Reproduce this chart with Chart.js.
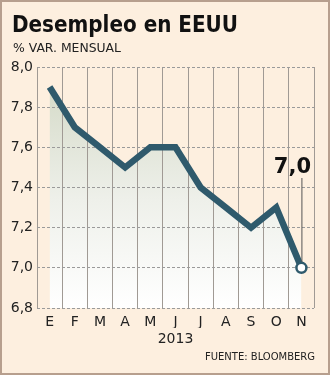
<!DOCTYPE html>
<html>
<head>
<meta charset="utf-8">
<script src="https://cdn.jsdelivr.net/npm/chart.js@4.4.0/dist/chart.umd.min.js"></script>
<style>
html,body{margin:0;padding:0;background:#fdefdf}
#c{display:block;background:#fdefdf}
</style>
</head>
<body>
<canvas id="c" width="330" height="375"></canvas>
<script>
// datos
const MESES=['E','F','M','A','M','J','J','A','S','O','N'];
const DESEMPLEO=[7.9,7.7,7.6,7.5,7.6,7.6,7.4,7.3,7.2,7.3,7.0];
const Y_MIN=6.8, Y_MAX=8.0, Y_STEP=0.2;
const TITULO='Desempleo en EEUU';
const SUBTITULO='% VAR. MENSUAL';
const ANIO='2013';
const FUENTE='FUENTE: BLOOMBERG';

const TEAL='#2f5a6c';
const FONT='"DejaVu Sans", Tahoma, sans-serif';

function coma(v){return Number(v).toFixed(1).replace('.',',')}

// texto ajustado a un ancho
function fitText(c,txt,x,y,w){
 const m=c.measureText(txt).width;
 c.save();c.translate(x,y);c.scale(w/m,1);c.fillText(txt,0,0);c.restore();
}

const decorPlugin={
 id:'decor',
 afterDraw(chart){
  const c=chart.ctx, xs=chart.scales.x, ys=chart.scales.y;
  c.save();
  c.fillStyle='#111';c.textBaseline='alphabetic';c.textAlign='left';
  c.font='bold 23px '+FONT;
  fitText(c,TITULO,12,32,226);
  c.font='13px '+FONT;c.fillStyle='#222';
  fitText(c,SUBTITULO,13,52,108);
  c.font='14px '+FONT;c.textAlign='center';
  c.fillText(ANIO,(xs.left+xs.right)/2,343);
  c.font='11px '+FONT;c.textAlign='left';
  fitText(c,FUENTE,205,360,110);
  // etiqueta del ultimo valor
  const last=DESEMPLEO.length-1;
  const px=xs.getPixelForValue(last), py=ys.getPixelForValue(DESEMPLEO[last]);
  c.strokeStyle='#555';c.lineWidth=1;
  c.beginPath();c.moveTo(px+0.5,178);c.lineTo(px+0.5,py-6);c.stroke();
  c.font='bold 21px '+FONT;c.textAlign='center';c.fillStyle='#111';
  c.fillText(coma(DESEMPLEO[last]),px-9,173);
  // marco
  c.strokeStyle='#b79f8e';c.lineWidth=2;
  c.strokeRect(1,1,328,373);
  c.restore();
 }
};

new Chart(document.getElementById('c'),{
 type:'line',
 data:{
  labels:MESES,
  datasets:[{
   data:DESEMPLEO,
   borderColor:TEAL,
   borderWidth:6.5,
   fill:'start',
   tension:0,
   backgroundColor:(ctx)=>{
    const a=ctx.chart.chartArea;
    if(!a)return '#e0e3d6';
    const g=ctx.chart.ctx.createLinearGradient(0,a.top,0,a.bottom);
    g.addColorStop(0,'#d1d7c3');
    g.addColorStop(0.55,'#eef0ea');
    g.addColorStop(1,'#ffffff');
    return g;
   },
   pointRadius:(ctx)=>ctx.dataIndex===DESEMPLEO.length-1?5:0,
   pointBackgroundColor:'#ffffff',
   pointBorderColor:TEAL,
   pointBorderWidth:2.5,
   clip:false
  }]
 },
 options:{
  responsive:false,
  animation:false,
  layout:{padding:{left:0,right:16,top:67,bottom:47}},
  plugins:{
   legend:{display:false},
   tooltip:{enabled:false},
   filler:{drawTime:'beforeDraw'}
  },
  scales:{
   x:{
    offset:true,
    grid:{offset:true,color:'#a09a94',lineWidth:1,drawTicks:false},
    border:{display:false},
    ticks:{color:'#222',font:{family:FONT,size:14},padding:6,maxRotation:0,autoSkip:false},
    afterFit(s){s.height=20}
   },
   y:{
    min:Y_MIN,max:Y_MAX,
    grid:{color:'#9a9a9a',lineWidth:1,drawTicks:false},
    border:{display:false,dash:[3,2]},
    ticks:{stepSize:Y_STEP,color:'#222',font:{family:FONT,size:14},padding:4,callback:(v)=>coma(v)},
    afterFit(s){s.width=37}
   }
  }
 },
 plugins:[decorPlugin]
});
</script>
</body>
</html>
